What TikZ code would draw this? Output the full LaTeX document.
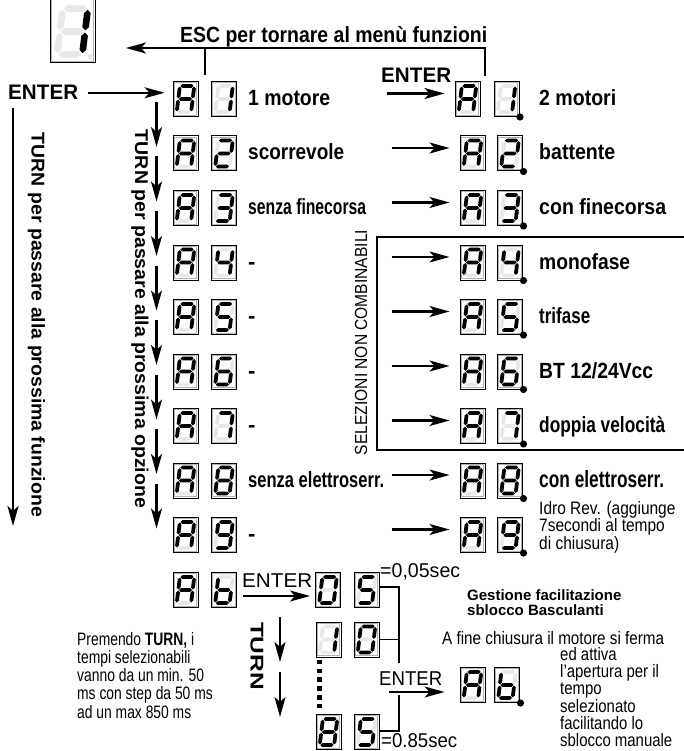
\documentclass[tikz,border=0pt]{standalone}
\usepackage{fontspec}
\setmainfont{Liberation Sans}
\usepackage{graphicx}
\usetikzlibrary{arrows.meta,calc}

\definecolor{segoff}{gray}{0.91}
\colorlet{segon}{black}

\newcommand\segfill[2]{\ifnum#1=1 \fill[segon] #2;\else\fill[segoff] #2;\fi}
\newcommand\segH[2]{\segfill{#1}{(-6.6,#2) -- (-4.7,#2-1.9) -- (4.7,#2-1.9) -- (6.6,#2) -- (4.7,#2+1.9) -- (-4.7,#2+1.9) -- cycle}}
\newcommand\segV[4]{\segfill{#1}{(#2,#3+0.6) -- (#2+1.9,#3+2.5) -- (#2+1.9,#4-2.5) -- (#2,#4-0.6) -- (#2-1.9,#4-2.5) -- (#2-1.9,#3+2.5) -- cycle}}
\def\segparse#1#2#3#4#5#6#7\relax{\segH{#1}{-13}\segV{#2}{7.2}{-13}{0}\segV{#3}{7.2}{0}{13}\segH{#4}{13}\segV{#5}{-7.2}{0}{13}\segV{#6}{-7.2}{-13}{0}\segH{#7}{0}}
\newcommand\segs[4]{\begin{scope}[shift={(#1,#2)},scale=#3,xslant=0.12]\expandafter\segparse#4\relax\end{scope}}

\def\dA{1110111}
\def\dOne{0110000}
\def\dTwo{1101101}
\def\dThree{1111001}
\def\dFour{0110011}
\def\dFive{1011011}
\def\dSix{1011111}
\def\dSeven{1110000}
\def\dEight{1111111}
\def\dNine{1111011}
\def\dZero{1111110}
\def\dbb{0011111}

\tikzset{
  dbox/.style={draw=black, line width=1, fill=white, minimum width=25, minimum height=35, inner sep=0},
  dinner/.style={draw=black!30, line width=1.1},
  arr/.style={line width=2.2, -{Stealth[length=20pt,width=11pt,inset=5pt]}},
  ln/.style={line width=2},
  br/.style={line width=1.4},
  lab/.style={inner sep=0, font=\bfseries\fontsize{22}{22}\selectfont},
  vlab/.style={inner sep=0, font=\bfseries\fontsize{18.5}{18.5}\selectfont},
  reg/.style={inner sep=0, font=\fontsize{20}{20}\selectfont},
  sm/.style={inner sep=0, anchor=base west, font=\fontsize{18}{18}\selectfont},
}

\newcommand\tx[2]{\resizebox{#1pt}{\height}{#2}}
\newcommand\sq[1]{\scalebox{0.83}[1]{#1}}
\newcommand\blk[4]{\scalebox{#1}[1]{\fontsize{#4}{#2}\selectfont\begin{tabular}[t]{@{}l@{}}#3\end{tabular}}}

\newcommand\dbox[4]{\node[dbox] (#1) at (#2,#3) {};
  \draw[dinner] ([shift={(1.6,1.6)}]#1.north west) rectangle ([shift={(-1.6,-1.6)}]#1.south east);
  \segs{#2}{#3}{1}{#4}}
\newcommand\dpt[1]{\fill ([xshift=0.5]#1.south east) circle[radius=3.6pt];}

% idx, y, digit, label
\newcommand\leftrow[4]{\dbox{L#1a}{185.5}{#2}{\dA}\dbox{L#1d}{224}{#2}{#3}
  \node[lab, anchor=base west] (L#1t) at (248,#2+6.5) {#4};}
% idx, y, digit, A x, D x
\newcommand\rightrow[5]{\dbox{R#1a}{#4}{#2}{\dA}\dbox{R#1d}{#5}{#2}{#3}\dpt{R#1d}
  \draw[arr] ([shift={(-68,-5.5)}]R#1a.west) -- ([shift={(-10,-5.5)}]R#1a.west);}
\newcommand\rlab[3]{\node[lab, anchor=base west] (R#1t) at (539,#2+6.5) {#3};}

\begin{document}
\begin{tikzpicture}[x=1pt,y=-1pt]
\useasboundingbox (0,0) rectangle (684,751);
\fill[white] (0,0) rectangle (684,751);

% top display
\node[dbox, minimum width=45, minimum height=65] (top) at (72.5,30.5) {};
\draw[dinner] ([shift={(1.6,1.6)}]top.north west) rectangle ([shift={(-1.6,-1.6)}]top.south east);
\segs{72.5}{31.5}{1.75}{\dOne}
\fill[segoff] (90.5,57) circle[radius=3pt];

% left column
\leftrow{1}{99}{\dOne}{\tx{82}{1 motore}}
\leftrow{2}{153.5}{\dTwo}{\tx{96}{scorrevole}}
\leftrow{3}{208}{\dThree}{\tx{118}{senza finecorsa}}
\leftrow{4}{262.5}{\dFour}{-}
\leftrow{5}{317}{\dFive}{-}
\leftrow{6}{371.5}{\dSix}{-}
\leftrow{7}{426}{\dSeven}{-}
\leftrow{8}{480.5}{\dEight}{\tx{136}{senza elettroserr.}}
\leftrow{9}{535}{\dNine}{-}

% right column
\rightrow{1}{99}{\dOne}{467.5}{506.5}
\rightrow{2}{153.5}{\dTwo}{472.5}{510}
\rightrow{3}{208}{\dThree}{472.5}{510}
\rightrow{4}{262.5}{\dFour}{472.5}{510}
\rightrow{5}{317}{\dFive}{472.5}{510}
\rightrow{6}{371.5}{\dSix}{472.5}{510}
\rightrow{7}{426}{\dSeven}{472.5}{510}
\rightrow{8}{480.5}{\dEight}{472.5}{510}
\rightrow{9}{535}{\dNine}{472.5}{510}
\rlab{1}{99}{\tx{77}{2 motori}}
\rlab{2}{153.5}{\tx{76}{battente}}
\rlab{3}{208}{\tx{127}{con finecorsa}}
\rlab{4}{262.5}{\tx{91}{monofase}}
\rlab{5}{317}{\tx{51}{trifase}}
\rlab{6}{371.5}{\tx{114}{BT 12/24Vcc}}
\rlab{7}{426}{\tx{126}{doppia velocità}}
\node[lab, font=\bfseries\fontsize{23.5}{23.5}\selectfont, anchor=base west] (R8t) at (539,487.5) {\tx{125}{con elettroserr.}};
\node[anchor=base west, inner sep=0] (idro) at (539,514) {\blk{0.86}{16}{Idro Rev. (aggiunge\\7secondi al tempo\\di chiusura)}{18}};

% ESC
\node[lab, anchor=base west] (esc) at (180,43) {\tx{307}{ESC per tornare al menù funzioni}};
\coordinate (escL) at (205,75);
\coordinate (escR) at (485,76);
\coordinate (escTip) at (126,48);
\draw[arr] (escR) |- (escTip);
\draw[ln] (escL) -- (escL |- escTip);

% ENTER labels
\node[lab, font=\bfseries\fontsize{21}{21}\selectfont, anchor=base west] (enterL) at (8,100) {\tx{70}{ENTER}};
\draw[arr] ([xshift=10]enterL.east) -- ([xshift=-8]enterL.east -| L1a.west);
\node[lab, font=\bfseries\fontsize{21}{21}\selectfont, anchor=base west] (enterR) at (381,83) {\tx{70}{ENTER}};

% vertical texts and arrows
\node[vlab, rotate=-90] (turnF) at (36.5,325) {\tx{384}{TURN per passare alla prossima funzione}};
\node[vlab, rotate=-90] (turnO) at (140,319) {\tx{378}{TURN per passare alla prossima opzione}};
\coordinate (lf1) at (13,108);
\coordinate (lf2) at (13,526);
\draw[arr, line width=2.6] (lf1) -- (lf2);
\foreach \i [evaluate=\i as \j using int(\i+1)] in {1,...,8}
  {\draw[arr] ([shift={(-16,3)}]L\i a.west) -- ([shift={(-16,-6.5)}]L\j a.west);}

% SELEZIONI NON COMBINABILI
\node[inner sep=0, font=\fontsize{17.5}{17.5}\selectfont, rotate=90] (sel) at (361,342.5) {\tx{225}{SELEZIONI NON COMBINABILI}};
\coordinate (selTR) at (684,237);
\coordinate (selTL) at (377,237);
\coordinate (selBL) at (377,450);
\coordinate (selBR) at (684,450);
\draw[br] (selTR) -- (selTL) -- (selBL) -- (selBR);

% A b row
\dbox{Lba}{185.5}{590}{\dA}
\dbox{Lbd}{224}{590}{\dbb}
\node[reg, anchor=base west] (enter2) at (242,587) {\tx{70}{ENTER}};
\dbox{B1a}{328}{590}{\dZero}
\dbox{B1b}{366.5}{590}{\dFive}
\draw[arr] ([shift={(6,6)}]Lbd.east) -- ([shift={(-5,6)}]B1a.west);
\node[reg, anchor=base west] (t005) at (380,577) {\tx{80}{=0,05sec}};
\dbox{B2a}{328.5}{639.5}{\dOne}
\dbox{B2b}{366.5}{639.5}{\dZero}
\foreach \k in {0,...,5} \fill (317.3,659.8+8.8*\k) rectangle ++(4.5,4.5);
\dbox{B3a}{328.5}{732}{\dEight}
\dbox{B3b}{366.5}{732}{\dFive}
\node[reg, anchor=base west] (t085) at (381,747) {\tx{76}{=0.85sec}};

\coordinate (brT) at (399,587);
\coordinate (brM) at (399,663);
\coordinate (brN) at (399,695);
\coordinate (brB) at (399,731);
\draw[br] (B1b.east |- brT) -- (brT) -- (brM);
\draw[br] (B2b.east) -- (B2b.east -| brT);
\draw[br] (brN) -- (brB) -- (B3b.east |- brB);

\node[reg, anchor=base west] (enter3) at (379,685) {\tx{63}{ENTER}};
\dbox{Ra}{472.5}{685}{\dA}
\dbox{Rb}{507}{685}{\dbb}
\dpt{Rb}
\draw[arr] ([shift={(-71,7)}]Ra.west) -- ([shift={(-15,7)}]Ra.west);

% TURN bottom
\node[vlab, rotate=-90] (turnB) at (257,656) {\tx{68}{TURN}};
\coordinate (tb1) at (280,617);
\coordinate (tb2) at (280,662);
\coordinate (tb3) at (280,672);
\coordinate (tb4) at (280,717);
\draw[arr] (tb1) -- (tb2);
\draw[arr] (tb3) -- (tb4);

% text blocks
\node[anchor=base west, inner sep=0] (prem) at (77,645) {\blk{0.77}{17.5}{Premendo \textbf{TURN,} i\\tempi selezionabili\\vanno da un min. 50\\ms con step da 50 ms\\ad un max 850 ms}{18}};
\node[anchor=base west, inner sep=0] (gest) at (467,600) {\bfseries\fontsize{15}{14.5}\selectfont\begin{tabular}[t]{@{}l@{}}Gestione facilitazione\\sblocco Basculanti\end{tabular}};
\node[sm] (afine) at (442,644) {\tx{222}{A fine chiusura il motore si ferma}};
\node[sm] (e1) at (560,660.5) {\sq{ed attiva}};
\node[sm] (e2) at (560,677.7) {\sq{l’apertura per il}};
\node[sm] (e3) at (560,694.9) {\sq{tempo}};
\node[sm] (e4) at (560,712.1) {\sq{selezionato}};
\node[sm] (e5) at (560,729.3) {\sq{facilitando lo}};
\node[sm] (e6) at (560,746.5) {\sq{sblocco manuale}};
\end{tikzpicture}
\end{document}
